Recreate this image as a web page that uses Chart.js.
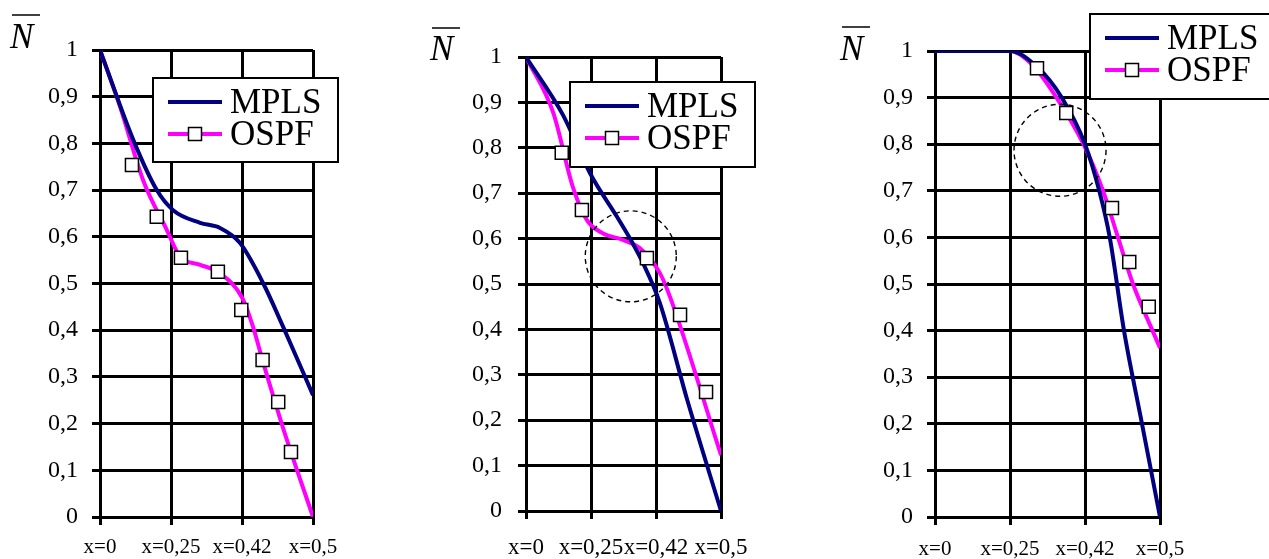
<!DOCTYPE html>
<html>
<head>
<meta charset="utf-8">
<script src="https://cdn.jsdelivr.net/npm/chart.js@4.4.1/dist/chart.umd.min.js"></script>
<style>
  body { margin: 0; background: #fff; width: 1269px; height: 559px; overflow: hidden; position: relative; }
  canvas { position: absolute; top: 0; }
</style>
</head>
<body>
<canvas id="c1" width="420" height="559" style="left:0px"></canvas>
<canvas id="c2" width="410" height="559" style="left:420px"></canvas>
<canvas id="c3" width="439" height="559" style="left:830px"></canvas>
<script>
// axis labels
const xLabels = ['x=0', 'x=0,25', 'x=0,42', 'x=0,5'];
const yLabels = ['0', '0,1', '0,2', '0,3', '0,4', '0,5', '0,6', '0,7', '0,8', '0,9', '1'];
const seriesNames = ['MPLS', 'OSPF'];

// panel 1
const p1MplsX = [0, 0.47, 0.8, 1.03, 1.41, 1.69, 1.97, 2.3, 2.58, 3];
const p1MplsY = [1, 0.807, 0.70, 0.657, 0.63, 0.619, 0.587, 0.50, 0.407, 0.261];
const p1OspfX = [0, 0.28, 0.61, 0.94, 1.13, 1.41, 1.69, 2.0, 2.15, 2.3, 2.58, 3];
const p1OspfY = [1, 0.88, 0.72, 0.615, 0.557, 0.54, 0.522, 0.47, 0.41, 0.33, 0.19, 0];
const p1MarkX = [0.45, 0.8, 1.14, 1.66, 1.99, 2.29, 2.51, 2.69];
const p1MarkY = [0.754, 0.643, 0.555, 0.525, 0.443, 0.336, 0.246, 0.139];

// panel 2
const p2MplsX = [0, 0.57, 0.985, 1.4, 1.6, 1.8, 2.06, 2.48, 3];
const p2MplsY = [1, 0.872, 0.744, 0.648, 0.60, 0.546, 0.458, 0.245, 0];
const p2OspfX = [0, 0.42, 0.72, 0.94, 1.18, 1.49, 1.75, 2.06, 2.22, 3];
const p2OspfY = [1, 0.877, 0.714, 0.64, 0.612, 0.597, 0.579, 0.524, 0.47, 0.123];
const p2MarkX = [0.55, 0.86, 1.86, 2.37, 2.77];
const p2MarkY = [0.789, 0.663, 0.557, 0.432, 0.262];

// panel 3
const p3MplsX = [0, 1, 1.36, 1.69, 2.0, 2.19, 2.33, 2.52, 2.76, 3];
const p3MplsY = [1, 1, 0.966, 0.9, 0.8, 0.7, 0.6, 0.4, 0.2, 0];
const p3OspfX = [0, 1, 1.3, 1.62, 1.98, 2.24, 2.44, 2.64, 2.9, 3];
const p3OspfY = [1, 1, 0.97, 0.9, 0.8, 0.7, 0.6, 0.5, 0.4, 0.363];
const p3MarkX = [1.36, 1.75, 2.36, 2.59, 2.85];
const p3MarkY = [0.963, 0.867, 0.663, 0.547, 0.451];

const FONT = '"Liberation Serif", "Times New Roman", serif';
const NAVY = '#000080';
const MAGENTA = '#ff00ff';

function toXY(xs, ys) {
  return xs.map((x, i) => ({ x: x, y: ys[i] }));
}

function drawMarker(ctx, x, y) {
  ctx.fillStyle = '#fff';
  ctx.strokeStyle = '#000';
  ctx.lineWidth = 1.5;
  ctx.fillRect(x - 6.5, y - 6.5, 13, 13);
  ctx.strokeRect(x - 6.5, y - 6.5, 13, 13);
}

// legend box, dashed circle and the N label
const decor = {
  id: 'decor',
  afterDatasetsDraw(chart, args, opts) {
    const ctx = chart.ctx;
    ctx.save();

    if (opts.circle) {
      const cx = chart.scales.x.getPixelForValue(opts.circle.x);
      const cy = chart.scales.y.getPixelForValue(opts.circle.y);
      ctx.beginPath();
      ctx.setLineDash([5, 4]);
      ctx.lineWidth = 1.4;
      ctx.strokeStyle = '#000';
      ctx.arc(cx, cy, opts.circle.r, 0, Math.PI * 2);
      ctx.stroke();
      ctx.setLineDash([]);
    }

    // legend
    const b = opts.box;
    ctx.fillStyle = '#fff';
    ctx.fillRect(b.x, b.y, b.w, b.h);
    ctx.lineWidth = 2;
    ctx.strokeStyle = '#000';
    ctx.strokeRect(b.x, b.y, b.w, b.h);

    const rows = [b.y + 24, b.y + 56];
    const colors = [NAVY, MAGENTA];
    ctx.font = '35px ' + FONT;
    ctx.textBaseline = 'middle';
    ctx.textAlign = 'left';
    rows.forEach((ry, i) => {
      ctx.beginPath();
      ctx.strokeStyle = colors[i];
      ctx.lineWidth = 4;
      ctx.moveTo(b.x + 15, ry);
      ctx.lineTo(b.x + 69, ry);
      ctx.stroke();
      if (i === 1) drawMarker(ctx, b.x + 42, ry);
      ctx.fillStyle = '#000';
      ctx.fillText(seriesNames[i], b.x + 77, ry + 1.5);
    });

    // N with overbar
    const n = opts.nLabel;
    ctx.font = 'italic 35px ' + FONT;
    ctx.textBaseline = 'alphabetic';
    ctx.fillStyle = '#000';
    ctx.fillText('N', n.x, n.y);
    ctx.beginPath();
    ctx.lineWidth = 1.5;
    ctx.strokeStyle = '#000';
    ctx.moveTo(n.x + 2, n.bar);
    ctx.lineTo(n.x + 30, n.bar);
    ctx.stroke();

    ctx.restore();
  }
};

function makeChart(id, mplsX, mplsY, ospfX, ospfY, markX, markY, cfg) {
  const ctx = document.getElementById(id).getContext('2d');
  return new Chart(ctx, {
    type: 'line',
    data: {
      datasets: [{
        label: 'MPLS',
        data: toXY(mplsX, mplsY),
        borderColor: NAVY,
        borderWidth: 4,
        pointRadius: 0,
        cubicInterpolationMode: 'monotone',
        fill: false,
        order: 1
      }, {
        label: 'OSPF',
        data: toXY(ospfX, ospfY),
        borderColor: MAGENTA,
        borderWidth: 4,
        pointRadius: 0,
        cubicInterpolationMode: 'monotone',
        fill: false,
        order: 2
      }, {
        label: 'OSPF points',
        data: toXY(markX, markY),
        showLine: false,
        pointStyle: 'rect',
        pointRadius: 9.2,
        pointBackgroundColor: '#fff',
        pointBorderColor: '#000',
        pointBorderWidth: 1.5,
        order: 0
      }]
    },
    options: {
      responsive: false,
      animation: false,
      devicePixelRatio: 1,
      layout: { padding: cfg.padding },
      scales: {
        x: {
          type: 'linear',
          min: 0,
          max: 3,
          ticks: {
            stepSize: 1,
            autoSkip: false,
            maxRotation: 0,
            minRotation: 0,
            padding: cfg.xPad,
            color: '#000',
            font: { family: FONT, size: cfg.xFont },
            callback: (v) => xLabels[v]
          },
          grid: { color: '#000', lineWidth: 3, tickLength: 8 },
          border: { color: '#000', width: 3 },
          afterFit: (s) => { s.height = cfg.xH; }
        },
        y: {
          min: 0,
          max: 1,
          ticks: {
            stepSize: 0.1,
            padding: cfg.yPad,
            color: '#000',
            font: { family: FONT, size: 24 },
            callback: (v, i) => yLabels[i]
          },
          grid: { color: '#000', lineWidth: 3, tickLength: 8 },
          border: { color: '#000', width: 3 },
          afterFit: (s) => { s.width = 60; }
        }
      },
      plugins: {
        legend: { display: false },
        tooltip: { enabled: false },
        decor: cfg.decor
      }
    },
    plugins: [decor]
  });
}

makeChart('c1', p1MplsX, p1MplsY, p1OspfX, p1OspfY, p1MarkX, p1MarkY, {
  padding: { left: 40, right: 107, top: 50, bottom: 0 },
  xH: 42, xPad: 10, yPad: 14, xFont: 21,
  decor: {
    box: { x: 153, y: 78, w: 185, h: 84 },
    circle: null,
    nLabel: { x: 10, y: 48, bar: 15 }
  }
});

makeChart('c2', p2MplsX, p2MplsY, p2OspfX, p2OspfY, p2MarkX, p2MarkY, {
  padding: { left: 46, right: 109, top: 57, bottom: 0 },
  xH: 48, xPad: 15, yPad: 16, xFont: 23,
  decor: {
    box: { x: 150, y: 82, w: 185, h: 85 },
    circle: { x: 1.612, y: 0.561, r: 45.5 },
    nLabel: { x: 10, y: 60, bar: 28 }
  }
});

makeChart('c3', p3MplsX, p3MplsY, p3OspfX, p3OspfY, p3MarkX, p3MarkY, {
  padding: { left: 45, right: 109, top: 51, bottom: 0 },
  xH: 42, xPad: 12, yPad: 14, xFont: 21,
  decor: {
    box: { x: 260, y: 14, w: 185, h: 85 },
    circle: { x: 1.667, y: 0.787, r: 46 },
    nLabel: { x: 10, y: 60, bar: 27 }
  }
});
</script>
</body>
</html>
